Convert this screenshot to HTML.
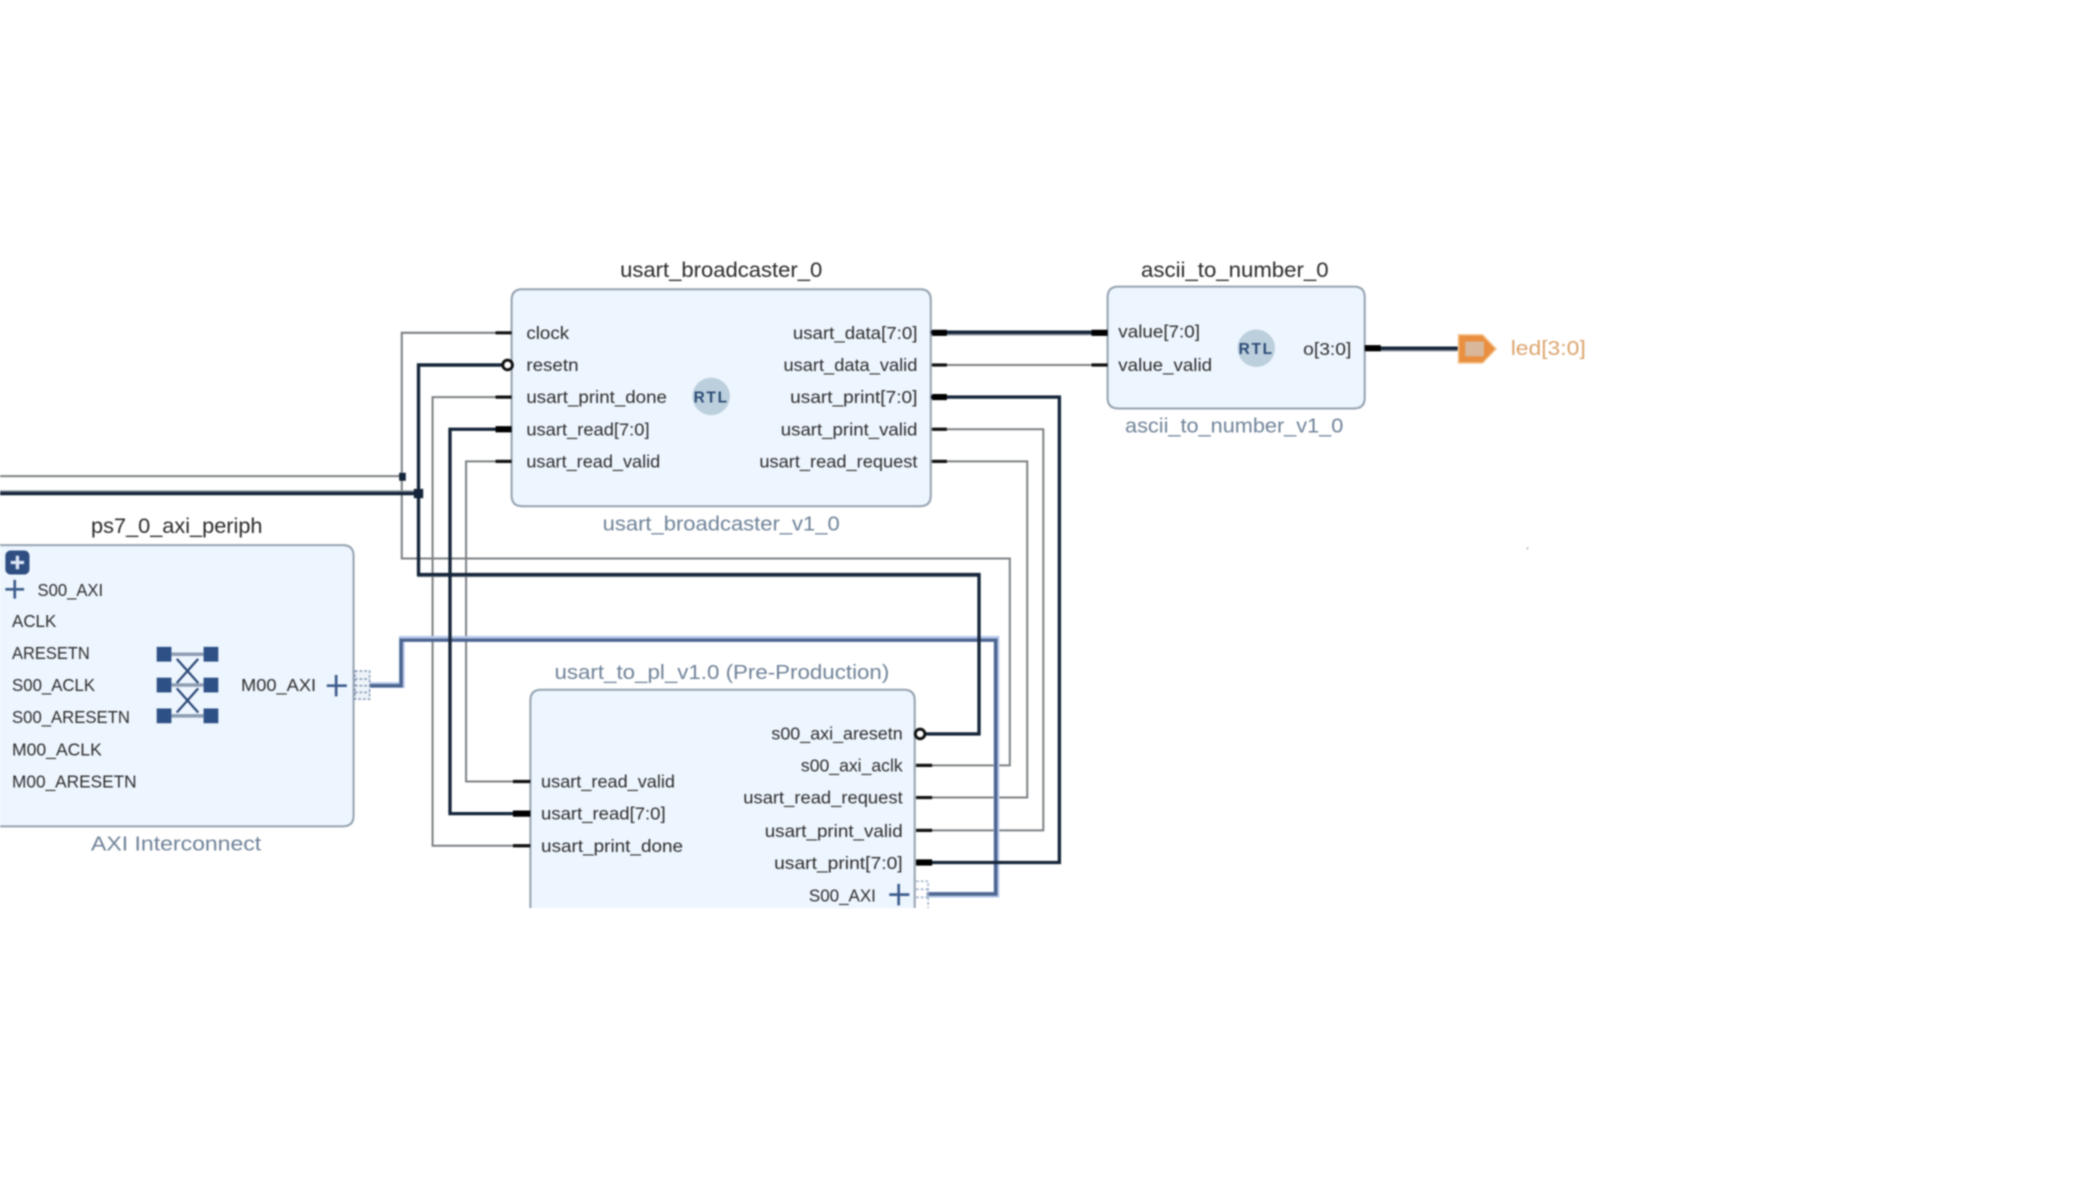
<!DOCTYPE html>
<html>
<head>
<meta charset="utf-8">
<style>
html,body{margin:0;padding:0;background:#fff;width:2100px;height:1200px;overflow:hidden}
svg{display:block;filter:blur(0.7px)}
text{font-family:"Liberation Sans",sans-serif;font-size:13.4px;fill:#2c2c2c}
.t{font-size:16px;fill:#2a2a2a}
.s{font-size:15.5px;fill:#6f8298}
.box{fill:#edf5fe;stroke:#94a2b0;stroke-width:1.5}
.g{fill:none;stroke:#7c8083;stroke-width:1.5}
.d{fill:none;stroke:#16263a;stroke-width:2.5}
.dg{fill:none;stroke:#808a94;stroke-width:1.8}
.stub{stroke:#111;stroke-width:2.4;fill:none}
.stubw{stroke:#000;stroke-width:4.6;fill:none}
.ax{fill:none;stroke:#b7c9ea;stroke-width:4.4}
.ax2{fill:none;stroke:#4d6690;stroke-width:2.6}
.n{fill:#2d5086}
</style>
</head>
<body>
<svg width="2100" height="1200" viewBox="0 0 1568 896" xmlns="http://www.w3.org/2000/svg">
<rect width="1568" height="896" fill="#fff"/>

<!-- boxes -->
<path class="box" d="M390 216H687Q695 216 695 224V370Q695 378 687 378H390Q382 378 382 370V224Q382 216 390 216Z"/>
<path class="box" d="M835 214H1011Q1019 214 1019 222V297Q1019 305 1011 305H835Q827 305 827 297V222Q827 214 835 214Z"/>
<path class="box" d="M-4 407H256Q264 407 264 415V609Q264 617 256 617H-4Z"/>
<path class="box" d="M396 678V523Q396 515 404 515H675Q683 515 683 523V678"/>

<!-- connectors: thin -->
<path class="g" d="M0 355.5H300"/>
<path class="g" d="M382 248.500H300V417H754V571.500H684"/>
<path class="g" d="M382 296.500H323V631.500H396"/>
<path class="g" d="M382 344.500H348V583.500H396"/>
<path class="g" d="M695 272.500H827"/>
<path class="g" d="M695 320.500H779V620H684"/>
<path class="g" d="M695 344.500H767V595.500H684"/>

<!-- AXI -->
<path class="ax" d="M275 511.500H300V477H744V668H692"/>
<path class="ax2" d="M275 512H299.500V478H743.500V667.500H692"/>

<!-- connectors: thick dark -->
<path class="dg" d="M0 367H312"/>
<path class="d" d="M0 368.500H312"/>
<path class="dg" d="M382 273H312.500V430H731"/>
<path class="d" d="M382 272.500H312.500V429H731V548H690"/>
<path class="d" d="M382 320.500H336V607.500H396"/>
<path class="dg" d="M695 249.500H827"/>
<path class="d" d="M695 248H827"/>
<path class="d" d="M695 296.500H791V644H684"/>
<path class="dg" d="M1020 261.500H1090"/>
<path class="d" d="M1020 260H1090"/>

<!-- junction dots -->
<rect x="298" y="353" width="5" height="6" fill="#16263a"/>
<rect x="309" y="365" width="7" height="7" fill="#16263a"/>

<!-- stubs -->
<path class="stub" d="M370 248.500H382M370 296.500H382M370 344.500H382"/>
<path class="stubw" d="M370 320.500H382"/>
<path class="stubw" d="M696 248.500H707M696 296.500H707"/>
<path class="stub" d="M696 272.500H707M696 320.500H707M696 344.500H707"/>
<path class="stubw" d="M815 248.500H827"/>
<path class="stub" d="M815 272.500H827"/>
<path class="stubw" d="M1019 260H1031"/>
<path class="stub" d="M383 583.500H396M383 631.500H396"/>
<path class="stubw" d="M383 607.500H396"/>
<path class="stub" d="M684 571.500H696M684 620H696"/>
<path class="stubw" d="M684 644H696"/>
<path class="stub" d="M684 595.500H696" stroke-width="3"/>

<!-- inverted bubbles -->
<circle cx="379" cy="272.500" r="3.600" fill="#fff" stroke="#111" stroke-width="2.200"/>
<circle cx="687" cy="548" r="3.600" fill="#fff" stroke="#111" stroke-width="2.200"/>

<!-- block titles -->
<text class="t" x="463" y="207" textLength="151" lengthAdjust="spacingAndGlyphs">usart_broadcaster_0</text>
<text class="s" x="450" y="396" textLength="177" lengthAdjust="spacingAndGlyphs">usart_broadcaster_v1_0</text>
<text class="t" x="852" y="207" textLength="140" lengthAdjust="spacingAndGlyphs">ascii_to_number_0</text>
<text class="s" x="840" y="323" textLength="163" lengthAdjust="spacingAndGlyphs">ascii_to_number_v1_0</text>
<text class="t" x="68" y="398" textLength="128" lengthAdjust="spacingAndGlyphs">ps7_0_axi_periph</text>
<text class="s" x="68" y="635" textLength="127" lengthAdjust="spacingAndGlyphs">AXI Interconnect</text>
<text class="s" x="414" y="507" textLength="250" lengthAdjust="spacingAndGlyphs">usart_to_pl_v1.0 (Pre-Production)</text>

<!-- broadcaster ports -->
<text x="393" y="253" textLength="32" lengthAdjust="spacingAndGlyphs">clock</text>
<text x="393" y="277" textLength="39" lengthAdjust="spacingAndGlyphs">resetn</text>
<text x="393" y="301" textLength="105" lengthAdjust="spacingAndGlyphs">usart_print_done</text>
<text x="393" y="325" textLength="92" lengthAdjust="spacingAndGlyphs">usart_read[7:0]</text>
<text x="393" y="349" textLength="100" lengthAdjust="spacingAndGlyphs">usart_read_valid</text>
<text x="592" y="253" textLength="93" lengthAdjust="spacingAndGlyphs">usart_data[7:0]</text>
<text x="585" y="277" textLength="100" lengthAdjust="spacingAndGlyphs">usart_data_valid</text>
<text x="590" y="301" textLength="95" lengthAdjust="spacingAndGlyphs">usart_print[7:0]</text>
<text x="583" y="325" textLength="102" lengthAdjust="spacingAndGlyphs">usart_print_valid</text>
<text x="567" y="349" textLength="118" lengthAdjust="spacingAndGlyphs">usart_read_request</text>

<!-- RTL badges -->
<circle cx="531" cy="296" r="14" fill="#bccfdd"/>
<text x="531" y="300.500" text-anchor="middle" style="font-size:11.500px;font-weight:bold;fill:#2b4a75;letter-spacing:1.300px">RTL</text>
<circle cx="938" cy="260" r="14" fill="#bccfdd"/>
<text x="938" y="264.500" text-anchor="middle" style="font-size:11.500px;font-weight:bold;fill:#2b4a75;letter-spacing:1.300px">RTL</text>

<!-- ascii ports -->
<text x="835" y="252" textLength="61" lengthAdjust="spacingAndGlyphs">value[7:0]</text>
<text x="835" y="277" textLength="70" lengthAdjust="spacingAndGlyphs">value_valid</text>
<text x="973" y="265" textLength="36" lengthAdjust="spacingAndGlyphs">o[3:0]</text>

<!-- led external port -->
<path d="M1089 250H1107L1117 260.500L1107 271H1089Z" fill="#e98f3f" stroke="#f5c48f" stroke-width="1.200"/>
<rect x="1094" y="255" width="14" height="11" fill="#d9b79a"/>
<text x="1128" y="265" textLength="56" lengthAdjust="spacingAndGlyphs" style="font-size:15.500px;fill:#dba46c">led[3:0]</text>

<!-- periph content -->
<rect x="4" y="411" width="18" height="18" rx="4" fill="#2f4e82"/>
<path d="M13 415V425M8 420H18" stroke="#dbe6f5" stroke-width="2.500"/>
<path d="M11 433V447M4 440H18" stroke="#3d5c8c" stroke-width="2"/>
<text x="28" y="445" textLength="49" lengthAdjust="spacingAndGlyphs">S00_AXI</text>
<text x="9" y="468" textLength="33" lengthAdjust="spacingAndGlyphs">ACLK</text>
<text x="9" y="492" textLength="58" lengthAdjust="spacingAndGlyphs">ARESETN</text>
<text x="9" y="516" textLength="62" lengthAdjust="spacingAndGlyphs">S00_ACLK</text>
<text x="9" y="540" textLength="88" lengthAdjust="spacingAndGlyphs">S00_ARESETN</text>
<text x="9" y="564" textLength="67" lengthAdjust="spacingAndGlyphs">M00_ACLK</text>
<text x="9" y="588" textLength="93" lengthAdjust="spacingAndGlyphs">M00_ARESETN</text>
<text x="180" y="516" textLength="56" lengthAdjust="spacingAndGlyphs">M00_AXI</text>
<path d="M251 504V520M244 512H259" stroke="#3d5c8c" stroke-width="2"/>

<!-- crossbar icon -->
<rect class="n" x="117" y="483" width="11" height="11"/>
<rect class="n" x="152" y="483" width="11" height="11"/>
<rect class="n" x="117" y="506" width="11" height="11"/>
<rect class="n" x="152" y="506" width="11" height="11"/>
<rect class="n" x="117" y="529" width="11" height="11"/>
<rect class="n" x="152" y="529" width="11" height="11"/>
<path d="M128 488.500H152M128 511.500H152M128 534.500H152" stroke="#8d9db3" stroke-width="2.600"/>
<path d="M132 492L148 510M148 492L132 510M132 514L148 532M148 514L132 532" stroke="#2d4a78" stroke-width="1.700"/>

<!-- periph dotted connector -->
<rect x="265" y="501" width="11" height="21" fill="#eef3f9" stroke="#7f95b4" stroke-width="1.100" stroke-dasharray="2 1.500"/>
<path d="M265 507H276M265 512H276M265 517H276" stroke="#7f95b4" stroke-width="1.100" stroke-dasharray="2 1.500"/>

<!-- usart_to_pl ports -->
<text x="404" y="588" textLength="100" lengthAdjust="spacingAndGlyphs">usart_read_valid</text>
<text x="404" y="612" textLength="93" lengthAdjust="spacingAndGlyphs">usart_read[7:0]</text>
<text x="404" y="636" textLength="106" lengthAdjust="spacingAndGlyphs">usart_print_done</text>
<text x="576" y="552" textLength="98" lengthAdjust="spacingAndGlyphs">s00_axi_aresetn</text>
<text x="598" y="576" textLength="76" lengthAdjust="spacingAndGlyphs">s00_axi_aclk</text>
<text x="555" y="600" textLength="119" lengthAdjust="spacingAndGlyphs">usart_read_request</text>
<text x="571" y="625" textLength="103" lengthAdjust="spacingAndGlyphs">usart_print_valid</text>
<text x="578" y="649" textLength="96" lengthAdjust="spacingAndGlyphs">usart_print[7:0]</text>
<text x="604" y="673" textLength="50" lengthAdjust="spacingAndGlyphs">S00_AXI</text>
<path d="M671 660V676M664 668H679" stroke="#3d5c8c" stroke-width="2"/>
<path d="M684 658H693V678M684 664H693M684 670H693" fill="none" stroke="#9db0c8" stroke-width="1.200" stroke-dasharray="2 1.500"/>

<!-- clip below -->
<rect x="0" y="678" width="1568" height="218" fill="#fff"/>
<rect x="1140" y="409" width="1" height="1" fill="#777"/>
</svg>
</body>
</html>
